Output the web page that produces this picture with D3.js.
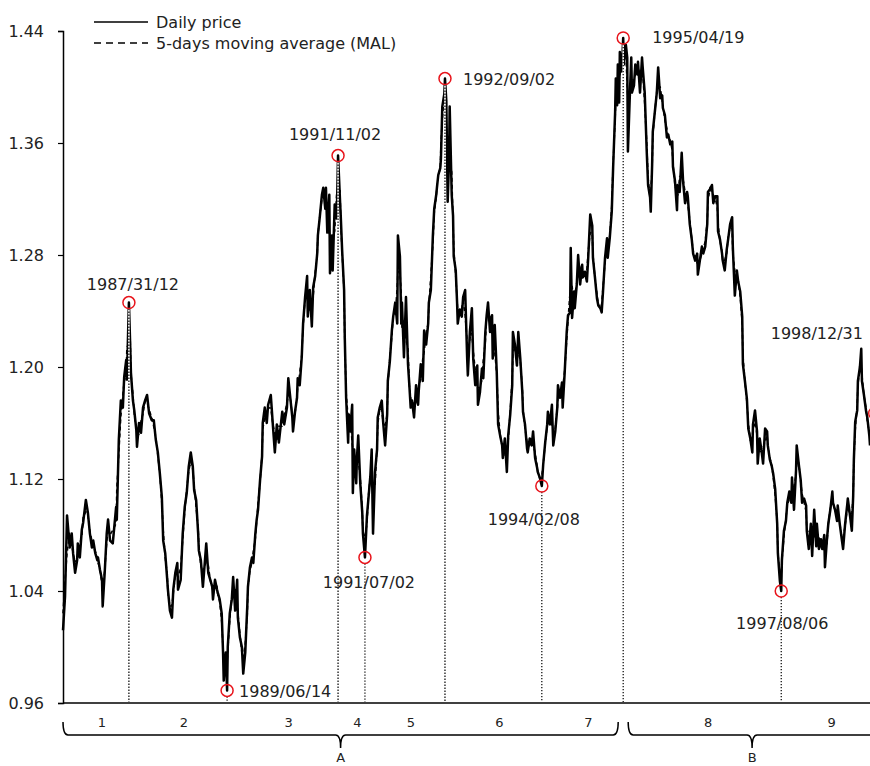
<!DOCTYPE html>
<html><head><meta charset="utf-8">
<script src="https://cdn.jsdelivr.net/npm/d3@7"></script>
<style>body{margin:0;background:#fff}svg{display:block;font-family:"DejaVu Sans",sans-serif}</style>
</head><body><svg id="c" width="870" height="766"></svg>
<script>
// [decimal year, price]
const dailyPrice = [
[1987.00,1.012],[1987.03,1.036],[1987.06,1.094],[1987.10,1.071],[1987.13,1.081],[1987.15,1.067],[1987.18,1.053],[1987.21,1.062],[1987.22,1.074],[1987.25,1.064],[1987.28,1.084],[1987.30,1.089],[1987.34,1.105],[1987.37,1.096],[1987.40,1.081],[1987.43,1.071],[1987.45,1.076],[1987.48,1.067],[1987.51,1.062],[1987.52,1.064],[1987.55,1.055],[1987.58,1.048],[1987.59,1.029],[1987.62,1.053],[1987.65,1.081],[1987.67,1.091],[1987.70,1.076],[1987.74,1.074],[1987.79,1.100],[1987.80,1.091],[1987.83,1.148],[1987.86,1.176],[1987.89,1.171],[1987.91,1.193],[1987.94,1.205],[1987.95,1.191],[1987.98,1.246],[1988.00,1.214],[1988.01,1.196],[1988.04,1.176],[1988.06,1.169],[1988.09,1.155],[1988.10,1.143],[1988.13,1.160],[1988.16,1.153],[1988.19,1.171],[1988.22,1.176],[1988.25,1.180],[1988.28,1.167],[1988.32,1.162],[1988.35,1.162],[1988.38,1.148],[1988.41,1.139],[1988.44,1.124],[1988.47,1.107],[1988.49,1.076],[1988.52,1.067],[1988.55,1.048],[1988.56,1.041],[1988.59,1.026],[1988.62,1.021],[1988.64,1.041],[1988.67,1.053],[1988.70,1.060],[1988.71,1.041],[1988.75,1.048],[1988.78,1.081],[1988.81,1.100],[1988.84,1.110],[1988.87,1.129],[1988.90,1.139],[1988.93,1.129],[1988.95,1.112],[1988.98,1.105],[1989.01,1.081],[1989.02,1.069],[1989.05,1.062],[1989.08,1.043],[1989.10,1.055],[1989.13,1.074],[1989.16,1.053],[1989.19,1.048],[1989.22,1.043],[1989.23,1.034],[1989.26,1.048],[1989.29,1.041],[1989.30,1.039],[1989.33,1.034],[1989.36,1.024],[1989.38,0.996],[1989.39,0.976],[1989.42,0.996],[1989.44,0.969],[1989.45,1.000],[1989.48,1.024],[1989.51,1.034],[1989.53,1.050],[1989.56,1.026],[1989.59,1.048],[1989.60,1.021],[1989.63,1.007],[1989.66,1.000],[1989.68,0.981],[1989.71,0.996],[1989.74,1.029],[1989.75,1.043],[1989.78,1.057],[1989.81,1.064],[1989.83,1.060],[1989.86,1.081],[1989.88,1.091],[1989.90,1.098],[1989.93,1.119],[1989.96,1.136],[1989.97,1.160],[1990.00,1.171],[1990.03,1.160],
[1990.05,1.173],[1990.09,1.180],[1990.12,1.159],[1990.15,1.139],[1990.18,1.159],[1990.21,1.146],[1990.26,1.168],[1990.29,1.159],[1990.33,1.171],[1990.35,1.192],[1990.38,1.178],[1990.41,1.164],[1990.42,1.154],[1990.45,1.168],[1990.48,1.178],[1990.49,1.192],[1990.52,1.187],[1990.55,1.207],[1990.57,1.231],[1990.60,1.250],[1990.63,1.265],[1990.64,1.236],[1990.67,1.255],[1990.70,1.229],[1990.72,1.257],[1990.75,1.265],[1990.78,1.281],[1990.79,1.294],[1990.82,1.308],[1990.85,1.323],[1990.87,1.328],[1990.90,1.313],[1990.91,1.328],[1990.93,1.296],[1990.96,1.323],[1990.97,1.267],[1991.00,1.294],[1991.01,1.269],[1991.04,1.316],[1991.07,1.306],[1991.09,1.351],[1991.12,1.318],[1991.13,1.308],[1991.15,1.284],[1991.18,1.255],[1991.19,1.221],[1991.21,1.178],[1991.24,1.146],[1991.25,1.166],[1991.27,1.154],[1991.30,1.173],[1991.31,1.110],[1991.33,1.141],[1991.36,1.117],[1991.37,1.134],[1991.39,1.151],[1991.42,1.117],[1991.45,1.096],[1991.46,1.081],[1991.49,1.064],[1991.52,1.094],[1991.54,1.105],[1991.57,1.122],[1991.59,1.141],[1991.61,1.081],[1991.64,1.125],[1991.67,1.141],[1991.68,1.164],[1991.71,1.171],[1991.74,1.176],[1991.76,1.161],[1991.79,1.144],[1991.82,1.166],[1991.83,1.190],[1991.86,1.204],[1991.89,1.226],[1991.91,1.236],[1991.94,1.246],[1991.97,1.231],[1991.98,1.294],[1992.01,1.279],[1992.03,1.231],[1992.04,1.246],[1992.07,1.207],[1992.10,1.250],[1992.13,1.202],[1992.15,1.187],[1992.17,1.171],[1992.19,1.176],[1992.22,1.164],[1992.25,1.187],[1992.28,1.173],[1992.29,1.183],[1992.32,1.202],[1992.35,1.190],[1992.37,1.226],[1992.40,1.216],[1992.43,1.231],[1992.44,1.246],[1992.47,1.255],[1992.50,1.294],[1992.52,1.313],[1992.55,1.323],[1992.56,1.328],[1992.58,1.337],[1992.61,1.342],[1992.62,1.349],[1992.64,1.386],[1992.67,1.395],[1992.68,1.406],[1992.70,1.390],[1992.72,1.318],[1992.74,1.347],[1992.75,1.386],[1992.78,1.323],[1992.80,1.308],[1992.81,1.279],[1992.84,1.269],[1992.86,1.246],[1992.87,1.231],[1992.90,1.241],[1992.93,1.236],[1992.95,1.250],[1992.98,1.255],
[1993.01,1.206],[1993.02,1.194],[1993.05,1.225],[1993.08,1.242],[1993.10,1.206],[1993.13,1.187],[1993.16,1.201],[1993.17,1.173],[1993.20,1.182],[1993.23,1.199],[1993.25,1.192],[1993.28,1.225],[1993.30,1.237],[1993.32,1.246],[1993.35,1.225],[1993.38,1.237],[1993.39,1.206],[1993.42,1.230],[1993.45,1.196],[1993.47,1.159],[1993.50,1.151],[1993.53,1.144],[1993.54,1.135],[1993.57,1.149],[1993.60,1.125],[1993.62,1.151],[1993.65,1.166],[1993.68,1.187],[1993.69,1.225],[1993.72,1.216],[1993.75,1.201],[1993.77,1.225],[1993.80,1.206],[1993.83,1.182],[1993.84,1.168],[1993.87,1.159],[1993.90,1.142],[1993.91,1.139],[1993.94,1.149],[1993.97,1.144],[1993.99,1.154],[1994.02,1.135],[1994.05,1.128],[1994.06,1.125],[1994.09,1.121],[1994.12,1.115],[1994.14,1.130],[1994.17,1.146],[1994.20,1.159],[1994.21,1.168],[1994.24,1.159],[1994.27,1.173],[1994.29,1.144],[1994.32,1.154],[1994.35,1.171],[1994.36,1.187],[1994.39,1.178],[1994.42,1.189],[1994.43,1.171],[1994.46,1.196],[1994.49,1.225],[1994.51,1.237],[1994.54,1.239],[1994.55,1.285],[1994.57,1.235],[1994.60,1.254],[1994.61,1.242],[1994.64,1.259],[1994.66,1.280],[1994.69,1.259],[1994.72,1.273],[1994.73,1.264],[1994.76,1.268],[1994.79,1.261],[1994.81,1.278],[1994.84,1.309],[1994.87,1.301],[1994.88,1.278],[1994.91,1.264],[1994.94,1.249],[1994.96,1.244],[1994.99,1.242],[1995.01,1.239],[1995.03,1.254],[1995.06,1.278],[1995.09,1.292],[1995.10,1.278],[1995.13,1.292],[1995.16,1.311],[1995.18,1.342],[1995.21,1.382],[1995.22,1.406],[1995.24,1.387],[1995.25,1.416],[1995.27,1.389],[1995.28,1.425],[1995.31,1.411],[1995.33,1.435],[1995.34,1.416],[1995.37,1.430],[1995.39,1.421],[1995.40,1.354],[1995.43,1.396],[1995.45,1.421],[1995.46,1.396],[1995.49,1.401],[1995.51,1.416],[1995.54,1.409],[1995.55,1.418],[1995.58,1.396],[1995.61,1.421],[1995.62,1.414],[1995.65,1.396],[1995.68,1.354],[1995.70,1.330],[1995.73,1.321],[1995.74,1.311],[1995.76,1.344],[1995.77,1.368],[1995.80,1.382],[1995.83,1.396],[1995.85,1.414],[1995.88,1.392],[1995.91,1.394],[1995.92,1.385],[1995.95,1.380],[1995.98,1.364],[1996.00,1.366],[1996.03,1.359],
[1996.06,1.361],[1996.07,1.343],[1996.10,1.333],[1996.13,1.312],[1996.14,1.330],[1996.17,1.325],[1996.20,1.353],[1996.22,1.333],[1996.25,1.317],[1996.28,1.325],[1996.29,1.322],[1996.32,1.302],[1996.35,1.291],[1996.37,1.281],[1996.40,1.276],[1996.43,1.281],[1996.44,1.266],[1996.47,1.276],[1996.50,1.286],[1996.52,1.281],[1996.55,1.286],[1996.58,1.302],[1996.59,1.325],[1996.62,1.327],[1996.65,1.330],[1996.67,1.317],[1996.70,1.322],[1996.73,1.322],[1996.74,1.297],[1996.77,1.291],[1996.80,1.281],[1996.81,1.276],[1996.84,1.269],[1996.87,1.284],[1996.89,1.291],[1996.92,1.302],[1996.95,1.307],[1996.96,1.286],[1996.99,1.251],[1997.02,1.269],[1997.04,1.261],[1997.07,1.254],[1997.10,1.236],[1997.11,1.202],[1997.14,1.190],[1997.17,1.177],[1997.19,1.156],[1997.22,1.149],[1997.25,1.139],[1997.26,1.159],[1997.29,1.169],[1997.32,1.154],[1997.33,1.131],[1997.36,1.149],[1997.39,1.139],[1997.41,1.131],[1997.44,1.156],[1997.47,1.154],[1997.48,1.144],[1997.51,1.134],[1997.54,1.129],[1997.56,1.124],[1997.59,1.113],[1997.62,1.088],[1997.63,1.067],[1997.66,1.047],[1997.68,1.040],[1997.69,1.062],[1997.72,1.083],[1997.75,1.090],[1997.77,1.103],[1997.80,1.111],[1997.83,1.103],[1997.84,1.121],[1997.87,1.098],[1997.90,1.126],[1997.91,1.144],[1997.94,1.131],[1997.97,1.119],[1997.99,1.103],[1998.02,1.106],[1998.05,1.101],[1998.06,1.083],[1998.09,1.070],[1998.12,1.088],[1998.14,1.065],[1998.17,1.098],[1998.20,1.072],[1998.21,1.088],[1998.24,1.070],[1998.27,1.077],[1998.29,1.070],[1998.32,1.080],[1998.33,1.057],[1998.36,1.077],[1998.38,1.088],[1998.41,1.098],[1998.44,1.111],[1998.45,1.103],[1998.48,1.098],[1998.51,1.090],[1998.52,1.101],[1998.55,1.088],[1998.58,1.077],[1998.60,1.070],[1998.63,1.088],[1998.66,1.101],[1998.67,1.106],[1998.70,1.095],[1998.73,1.083],[1998.75,1.108],[1998.76,1.134],[1998.78,1.161],[1998.81,1.169],[1998.82,1.190],[1998.85,1.200],[1998.87,1.213],[1998.88,1.190],[1998.91,1.180],[1998.94,1.169],[1998.96,1.164],[1998.99,1.151],[1999.00,1.144]
];

const yTicks = [0.96, 1.04, 1.12, 1.20, 1.28, 1.36, 1.44];

const eventLabels = ["1987/31/12","1989/06/14","1991/11/02","1991/07/02","1992/09/02","1994/02/08","1995/04/19","1997/08/06","1998/12/31"];
const eventYears  = [1987.98, 1989.44, 1991.09, 1991.49, 1992.68, 1994.12, 1995.33, 1997.68, 1999.07];
const eventValues = [1.246, 0.969, 1.351, 1.064, 1.406, 1.115, 1.435, 1.040, 1.167];

const segmentNames = ["1","2","3","4","5","6","7","8","9"];
const groupNames = ["A","B"];
const legendNames = ["Daily price","5-days moving average (MAL)"];

// ---------- layout / style (not data) ----------
const labelPlacement = [
  {dx:4,dy:-18,anchor:"middle"},{dx:12,dy:1,anchor:"start"},{dx:-3,dy:-21,anchor:"middle"},
  {dx:4,dy:25,anchor:"middle"},{dx:18,dy:1,anchor:"start"},{dx:-8,dy:33,anchor:"middle"},
  {dx:29,dy:-1,anchor:"start"},{dx:1,dy:32,anchor:"middle"},{dx:-104,dy:-80,anchor:"start"}
];

const svg = d3.select("#c");
const x = d3.scaleLinear().domain([1987, 1999]).range([63, 870]);
const y = d3.scaleLinear().domain([0.96, 1.44]).range([703, 31]);

// axes
const yAxis = svg.append("g").attr("transform","translate(63,0)")
  .call(d3.axisLeft(y).tickValues(yTicks).tickFormat(d3.format(".2f")).tickSize(5).tickPadding(14));
yAxis.select(".domain").attr("stroke","#000").attr("stroke-width",1.5);
yAxis.selectAll(".tick line").attr("stroke","#000").attr("stroke-width",1.2);
yAxis.selectAll("text").attr("font-family","DejaVu Sans").attr("font-size",16).attr("fill","#222");

svg.append("line").attr("x1",x(1987)).attr("x2",870).attr("y1",y(0.96)).attr("y2",y(0.96))
  .attr("stroke","#000").attr("stroke-width",1.5);

// moving average (centered, from the daily readings)
const maData = dailyPrice.map((d,i,a)=>[d[0], d3.mean(a.slice(Math.max(0,i-1), i+2), p=>p[1])]);
const line = d3.line().x(d=>x(d[0])).y(d=>y(d[1]));

svg.append("path").datum(maData).attr("d",line).attr("fill","none")
  .attr("stroke","#000").attr("stroke-width",1.6).attr("stroke-dasharray","4,3");
svg.append("path").datum(dailyPrice).attr("d",line).attr("fill","none")
  .attr("stroke","#000").attr("stroke-width",2.5).attr("stroke-linejoin","round");

// events
const events = eventLabels.map((l,i)=>({label:l, year:eventYears[i], value:eventValues[i], p:labelPlacement[i]}));
const eg = svg.append("g");
events.forEach(e=>{
  const cx = x(e.year), cy = y(e.value);
  eg.append("line").attr("x1",cx).attr("x2",cx).attr("y1",cy+6).attr("y2",y(0.96)-1)
    .attr("stroke","#fff").attr("stroke-width",1.6);
  eg.append("line").attr("x1",cx).attr("x2",cx).attr("y1",cy+6).attr("y2",y(0.96)-1)
    .attr("stroke","#000").attr("stroke-width",1.2).attr("stroke-dasharray","1.3,1.7");
  eg.append("circle").attr("cx",cx).attr("cy",cy).attr("r",6)
    .attr("fill","none").attr("stroke","#e8141b").attr("stroke-width",1.5);
  eg.append("text").attr("x",cx+e.p.dx).attr("y",cy+e.p.dy).attr("dy","0.35em")
    .attr("text-anchor",e.p.anchor).attr("font-size",16).attr("fill","#222").text(e.label);
});

// segment labels
const bounds = [1987, ...eventYears.slice(0,8), 1999];
segmentNames.forEach((s,i)=>{
  const xm = (x(bounds[i])+x(bounds[i+1]))/2 + 6;
  svg.append("text").attr("x",xm).attr("y",722).attr("dy","0.35em").attr("text-anchor","middle")
    .attr("font-size",13).attr("fill","#222").text(s);
});

// braces
function brace(x1,x2){
  const xm=(x1+x2)/2, y0=722, y1=735, y2=748, r=5;
  return `M${x1},${y0} Q${x1},${y1} ${x1+r},${y1} L${xm-r},${y1} Q${xm},${y1} ${xm},${y2} Q${xm},${y1} ${xm+r},${y1} L${x2-r},${y1} Q${x2},${y1} ${x2},${y0}`;
}
const groupSpans = [[x(1987), x(eventYears[6])-5],[x(eventYears[6])+5, x(1999)+6]];
groupNames.forEach((g,i)=>{
  const [a,b] = groupSpans[i];
  svg.append("path").attr("d",brace(a,b)).attr("fill","none").attr("stroke","#000").attr("stroke-width",1.5);
  svg.append("text").attr("x",(a+b)/2).attr("y",757).attr("dy","0.35em").attr("text-anchor","middle")
    .attr("font-size",13).attr("fill","#222").text(g);
});

// legend
const lg = svg.append("g");
legendNames.forEach((n,i)=>{
  const ly = 22 + i*21;
  lg.append("line").attr("x1",94).attr("x2",148).attr("y1",ly).attr("y2",ly)
    .attr("stroke","#000").attr("stroke-width",1.6).attr("stroke-dasharray", i ? "7,5" : null);
  lg.append("text").attr("x",156).attr("y",ly).attr("dy","0.35em").attr("font-size",16)
    .attr("fill","#222").text(n);
});
</script></body></html>
